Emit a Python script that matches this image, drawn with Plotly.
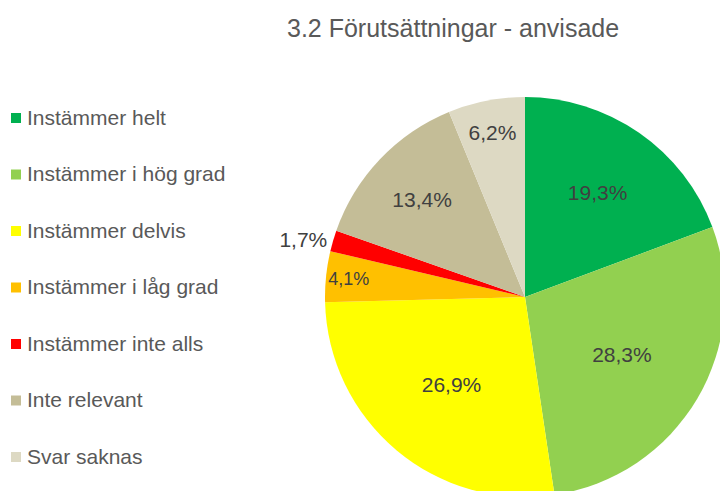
import plotly.graph_objects as go

categories = ["Instämmer helt", "Instämmer i hög grad", "Instämmer delvis",
              "Instämmer i låg grad", "Instämmer inte alls", "Inte relevant", "Svar saknas"]
values = [19.3, 28.3, 26.9, 4.1, 1.7, 13.4, 6.2]
colors = ["#00B050", "#92D050", "#FFFF00", "#FFC000", "#FF0000", "#C4BD97", "#DDD9C3"]
title = "3.2 Förutsättningar - anvisade"

W, H = 760, 540
OFF = 0  # body margin removed via post_script

def px(x):
    return (x - OFF) / W

def py(y):
    return (H - (y - OFF)) / H

FONT = "Liberation Sans, Arial"
textpos = ["outside" if v < 2 else "inside" for v in values]

fig = go.Figure(go.Pie(
    labels=categories, values=values, sort=False, direction="clockwise", rotation=0,
    marker=dict(colors=colors, line=dict(width=0)),
    texttemplate="%{value:.1f}%", textposition=textpos,
    insidetextorientation="horizontal",
    textfont=dict(family=FONT, size=21, color="#404040"),
    showlegend=False, hoverinfo="label+percent",
    domain=dict(x=[px(325), px(725)], y=[py(497), py(97)]),
))

annotations = [dict(text=title, x=px(453), y=py(28), xref="paper", yref="paper",
                    xanchor="center", yanchor="middle", showarrow=False,
                    font=dict(family=FONT, size=25, color="#595959"))]
shapes = []
y0, step = 118, 56.5
for i, (c, col) in enumerate(zip(categories, colors)):
    yc = y0 + i * step
    shapes.append(dict(type="rect", xref="paper", yref="paper",
                       x0=px(11), x1=px(21), y0=py(yc + 5), y1=py(yc - 5),
                       fillcolor=col, line=dict(width=0)))
    annotations.append(dict(text=c, x=px(25), y=py(yc - 1), xref="paper", yref="paper",
                            xanchor="left", yanchor="middle", showarrow=False,
                            font=dict(family=FONT, size=21, color="#595959")))

fig.update_layout(width=W, height=H, margin=dict(l=0, r=0, t=0, b=0),
                  paper_bgcolor="white", plot_bgcolor="white",
                  separators=",.", annotations=annotations, shapes=shapes)

fig.write_html("out.html", config={"displayModeBar": False},
               post_script="document.body.style.margin='0';document.body.style.overflow='hidden';")
